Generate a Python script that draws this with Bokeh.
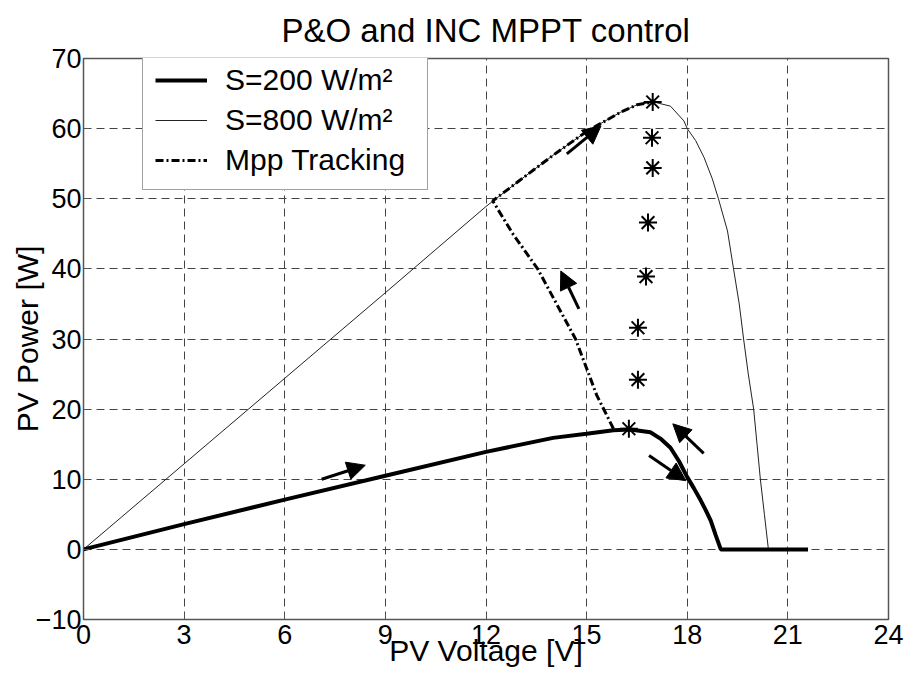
from bokeh.plotting import figure
from bokeh.models import (ColumnDataSource, Arrow, NormalHead, FixedTicker, Legend, LegendItem, Range1d)
from bokeh.embed import file_html
from bokeh.resources import INLINE

# ---- data ----
v200 = [0, 3, 6, 9, 12, 14, 15, 15.8, 16.3, 16.9, 17.2, 17.5, 17.75, 18.0, 18.2, 18.4, 18.55, 18.7, 18.85, 19.0, 21.6]
p200 = [0, 3.6, 7.1, 10.5, 13.9, 15.9, 16.5, 17.0, 17.1, 16.7, 15.8, 14.5, 12.6, 10.3, 8.7, 7.0, 5.6, 4.1, 2.0, 0, 0]

v800 = [0, 3, 6, 9, 12, 13, 14, 15, 16, 16.5, 17, 17.5, 17.9, 18.0, 18.25, 18.5, 18.75, 18.93, 19.2, 19.38,
        19.55, 19.68, 19.82, 19.98, 20.08, 20.18, 20.3, 20.42]
p800 = [0, 12.2, 24.4, 36.6, 48.9, 52.6, 56.2, 59.6, 62.3, 63.4, 63.8, 63.2, 61.1, 60.0, 58.3, 55.9, 52.8, 50, 45.4, 40,
        35, 30, 25, 20, 15, 10, 5, 0]

v_mpp = [15.8, 15.3, 14.67, 13.54, 12.8, 12.2, 13, 14, 15, 16, 16.5, 17]
p_mpp = [17.2, 22, 30, 40, 45, 49.7, 52.6, 56.2, 59.6, 62.3, 63.4, 63.8]

v_star = [16.97, 16.95, 16.97, 16.83, 16.77, 16.53, 16.53, 16.26]
p_star = [63.8, 58.7, 54.4, 46.6, 38.9, 31.6, 24.2, 17.2]

arrow_v0 = [7.1, 14.41, 14.77, 18.49, 16.86]
arrow_p0 = [10.0, 56.4, 34.3, 13.7, 13.4]
arrow_v1 = [8.4, 15.43, 14.23, 17.57, 17.96]
arrow_p1 = [12.0, 60.4, 39.7, 17.9, 9.8]

x_ticks = [0, 3, 6, 9, 12, 15, 18, 21, 24]
y_ticks = [-10, 0, 10, 20, 30, 40, 50, 60, 70]

title_text = "P&O and INC MPPT control"
x_label = "PV Voltage [V]"
y_label = "PV Power [W]"
legend_labels = ["S=200 W/m²", "S=800 W/m²", "Mpp Tracking"]

FONT = "Liberation Sans"

p = figure(width=905, height=673, output_backend="svg", toolbar_location=None,
           x_range=Range1d(0, 24), y_range=Range1d(-10, 70),
           min_border_left=83, min_border_right=17, min_border_top=57, min_border_bottom=54)

p.title.text = title_text
p.title.align = "center"
p.title.text_font = FONT
p.title.text_font_size = "33px"
p.title.text_font_style = "normal"
p.title.text_color = "black"
p.title.standoff = 19

p.outline_line_color = "#555555"
p.outline_line_width = 1.5

for ax, ticks in ((p.xaxis, x_ticks), (p.yaxis, y_ticks)):
    ax.ticker = FixedTicker(ticks=ticks)
    ax.major_label_text_font = FONT
    ax.major_label_text_font_size = "27px"
    ax.major_label_text_color = "black"
    ax.axis_label_text_font = FONT
    ax.axis_label_text_font_size = "30px"
    ax.axis_label_text_font_style = "normal"
    ax.axis_label_text_color = "black"
    ax.major_tick_in = 6
    ax.major_tick_out = 0
    ax.minor_tick_line_color = None
    ax.axis_line_color = "#555555"
    ax.major_tick_line_color = "#555555"

p.xaxis.axis_label = x_label
p.yaxis.axis_label = y_label
p.xaxis.major_label_standoff = 5
p.yaxis.major_label_standoff = 2
p.xaxis.axis_label_standoff = -13
p.yaxis.axis_label_standoff = -11

for g in (p.xgrid, p.ygrid):
    g.grid_line_color = "#444444"
    g.grid_line_dash = "8 5"
    g.grid_line_width = 1

r800 = p.line(v800, p800, line_color="#222222", line_width=1)
r200 = p.line(v200, p200, line_color="black", line_width=4)
rmpp = p.line(v_mpp, p_mpp, line_color="black", line_width=3, line_dash="8 3 2 3")
p.scatter(v_star, p_star, marker="asterisk", size=18, line_color="black", line_width=2)

asrc = ColumnDataSource(dict(x0=arrow_v0, y0=arrow_p0, x1=arrow_v1, y1=arrow_p1))
p.add_layout(Arrow(source=asrc, x_start="x0", y_start="y0", x_end="x1", y_end="y1",
                   line_width=3, line_color="black",
                   end=NormalHead(size=18, fill_color="black", line_color="black")))

legend = Legend(items=[LegendItem(label=legend_labels[0], renderers=[r200]),
                       LegendItem(label=legend_labels[1], renderers=[r800]),
                       LegendItem(label=legend_labels[2], renderers=[rmpp])],
                location=(59, 429))
legend.label_text_font = FONT
legend.label_text_font_size = "30px"
legend.label_text_color = "black"
legend.glyph_width = 52
legend.glyph_height = 26
legend.label_height = 26
legend.label_width = 190
legend.label_standoff = 18
legend.spacing = 6
legend.padding = 12
legend.margin = 0
legend.border_line_color = "#444444"
legend.border_line_width = 1.5
legend.background_fill_color = "white"
legend.background_fill_alpha = 1
p.add_layout(legend, "center")

open("out.html", "w").write(file_html(p, INLINE))
